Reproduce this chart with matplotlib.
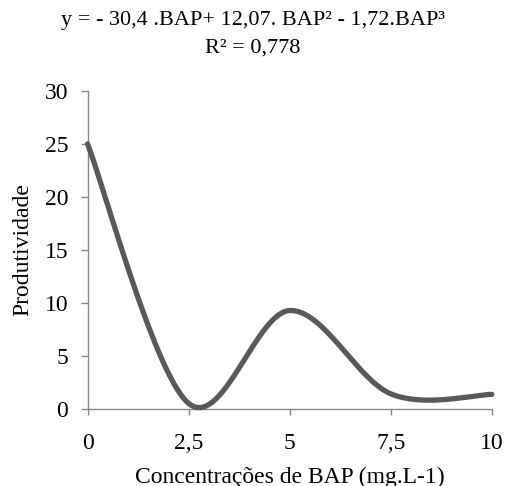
import numpy as np
import matplotlib
matplotlib.use("Agg")
import matplotlib.pyplot as plt

# Data
bap = [0, 2.5, 5, 7.5, 10]
produtividade = [25.0, 0.55, 9.3, 1.45, 1.4]
xticks = [0, 2.5, 5, 7.5, 10]
xticklabels = ["0", "2,5", "5", "7,5", "10"]
yticks = [0, 5, 10, 15, 20, 25, 30]
title_lines = ["y = - 30,4 .BAP+ 12,07. BAP² - 1,72.BAP³", "R² = 0,778"]


def excel_smooth(xs, ys, n=60):
    P = np.column_stack([xs, ys]).astype(float)
    m = len(P)
    out = []
    for i in range(m - 1):
        p0 = P[i]
        p3 = P[i + 1]
        prev = P[i - 1] if i > 0 else P[i]
        nxt = P[i + 2] if i + 2 < m else P[i + 1]
        c1 = p0 + (p3 - prev) / 6.0
        c2 = p3 - (nxt - p0) / 6.0
        t = np.linspace(0, 1, n)[:, None]
        seg = ((1 - t) ** 3) * p0 + 3 * ((1 - t) ** 2) * t * c1 + 3 * (1 - t) * t ** 2 * c2 + t ** 3 * p3
        if i > 0:
            seg = seg[1:]
        out.append(seg)
    out = np.vstack(out)
    return out[:, 0], out[:, 1]


plt.rcParams['font.family'] = ['Liberation Serif', 'DejaVu Serif']
fig = plt.figure(figsize=(5.06, 4.86), dpi=100)
ax = fig.add_axes([0.173, 0.158, 0.972 - 0.173, 0.813 - 0.158])

sx, sy = excel_smooth(bap, produtividade)
ax.plot(sx, sy, color="#595959", lw=3.8, solid_capstyle="round", clip_on=False, zorder=3)

ax.set_xlim(0, 10)
ax.set_ylim(0, 30)
ax.set_xticks(xticks)
ax.set_xticklabels(xticklabels)
ax.set_yticks(yticks)

for s in ["top", "right"]:
    ax.spines[s].set_visible(False)
for s in ["left", "bottom"]:
    ax.spines[s].set_color("#868686")
    ax.spines[s].set_linewidth(1.0)
ax.tick_params(axis="y", direction="out", length=5, width=1, color="#868686", labelsize=17, pad=9)
ax.tick_params(axis="x", direction="out", length=4, width=1, color="#868686", labelsize=17, pad=13)

ax.set_ylabel("Produtividade", fontsize=17, labelpad=8)
ax.set_xlabel("Concentrações de BAP (mg.L-1)", fontsize=17, labelpad=9)

fig.text(0.5, 1 - 20 / 486, title_lines[0], ha="center", va="center", fontsize=16)
fig.text(0.5, 1 - 48 / 486, title_lines[1], ha="center", va="center", fontsize=16)

fig.savefig("out.png", dpi=100)
